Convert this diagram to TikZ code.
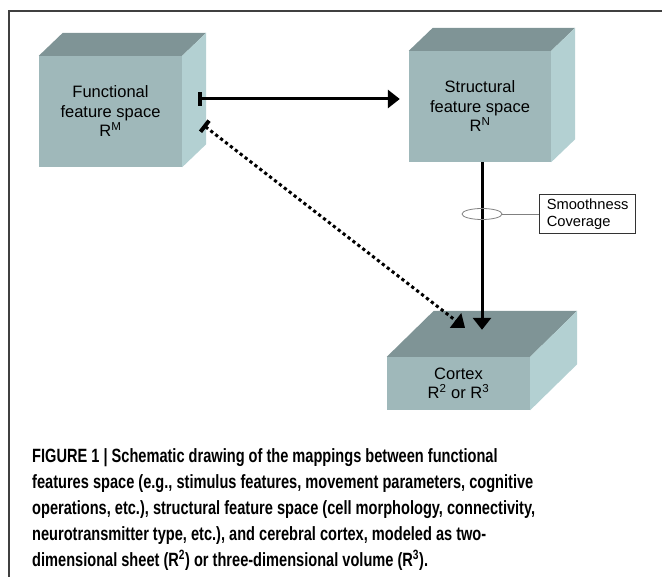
\documentclass[tikz,border=0pt]{standalone}
\usepackage{fontspec}
\setmainfont{Liberation Sans}
\newfontfamily\capfont[FakeStretch=0.76]{Liberation Sans}
\usepackage{tikz}
\usetikzlibrary{arrows.meta, positioning, shapes.geometric}

\definecolor{frontgray}{RGB}{159,184,186}
\definecolor{topgray}{RGB}{127,148,150}
\definecolor{sidegray}{RGB}{179,208,210}

\tikzset{
  face/.style={
    rectangle, fill=frontgray, inner sep=0pt, align=center,
    font=\fontsize{16.5}{19.5}\selectfont
  },
  link/.style={
    line width=3pt, {Bar[width=14pt,line width=4pt]}-{Triangle[length=12pt,width=18pt]}
  },
  flow/.style={
    line width=3pt, -{Triangle[length=12pt,width=18pt]}
  },
  ring/.style={
    ellipse, draw=gray, line width=0.8pt, minimum width=40pt, minimum height=11pt, inner sep=0pt
  },
  tag/.style={
    rectangle, draw=black!80, line width=0.7pt, align=left, inner xsep=7pt, inner ysep=4pt,
    font=\fontsize{14.7}{17}\selectfont
  },
  caption/.style={
    align=left, inner sep=0pt, font=\capfont\bfseries\fontsize{19.2}{26.2}\selectfont
  }
}

% top and side faces of a box drawn behind node #1
\newcommand\cubefaces[3]{%
  \fill[topgray] (#1.north west) -- ++(#2,-#3) -- ([shift={(#2,-#3)}]#1.north east) -- (#1.north east) -- cycle;
  \fill[sidegray] (#1.north east) -- ++(#2,-#3) -- ([shift={(#2,-#3)}]#1.south east) -- (#1.south east) -- cycle;
}

\begin{document}
\begin{tikzpicture}[x=1pt, y=-1pt]
\useasboundingbox (0,0) rectangle (662,577);
\draw[black!75, line width=1.2pt] (662,11) -- (9,11) -- (9,577);

\node[face, minimum width=143pt, minimum height=111pt] (func) at (110.5,111.5) {Functional\\feature space\\R\textsuperscript{M}};
\node[face, minimum width=142pt, minimum height=111pt] (struct) at (480,106.5) {Structural\\feature space\\R\textsuperscript{N}};
\node[face, minimum width=143pt, minimum height=53pt] (cortex) at (458.5,383.5) {Cortex\\R\textsuperscript{2} or R\textsuperscript{3}};

\cubefaces{func}{24}{23}
\cubefaces{struct}{24}{23}
\cubefaces{cortex}{47}{46}

\draw[link] ([xshift=16pt,yshift=12.5pt]func.east) -- ([xshift=-9pt,yshift=7.5pt]struct.west);
\draw[link, dash pattern=on 3.2pt off 3pt] ([xshift=21pt,yshift=-13.5pt]func.east) -- ([xshift=6.5pt,yshift=29pt]cortex.north);
\draw[flow] ([xshift=2pt]struct.south) -- ([xshift=23.5pt,yshift=27pt]cortex.north);

\node[ring] (ring) at (482,214) {};
\node[tag, right=37pt of ring] (props) {Smoothness\\Coverage};
\draw[gray, line width=0.8pt] (ring) -- (props);

\node[caption, anchor=north west] (cap) at (32,448) {FIGURE 1 | Schematic drawing of the mappings between functional\\
features space (e.g., stimulus features, movement parameters, cognitive\\
operations, etc.), structural feature space (cell morphology, connectivity,\\
neurotransmitter type, etc.), and cerebral cortex, modeled as two-\\
dimensional sheet (R\textsuperscript{2}) or three-dimensional volume (R\textsuperscript{3}).};

\end{tikzpicture}
\end{document}
